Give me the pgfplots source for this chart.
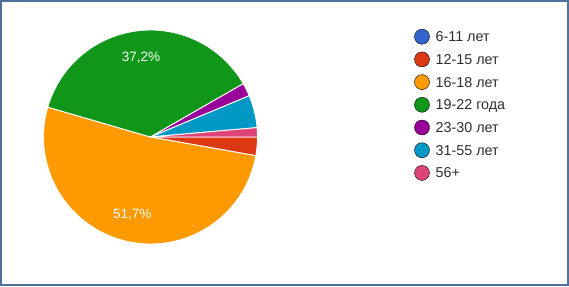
\documentclass[border=0pt]{standalone}
\usepackage{pgfplots}
\usepackage{pgfplotstable}
\pgfplotsset{compat=1.18}
\usetikzlibrary{calc}
\usepackage{fontspec}
\setmainfont{Liberation Sans}

\definecolor{c1}{HTML}{3366CC}
\definecolor{c2}{HTML}{DC3912}
\definecolor{c3}{HTML}{FF9900}
\definecolor{c4}{HTML}{109618}
\definecolor{c5}{HTML}{990099}
\definecolor{c6}{HTML}{0099C6}
\definecolor{c7}{HTML}{DD4477}
\definecolor{frame}{RGB}{79,113,156}

% age groups, share in percent
\pgfplotstableread{
label value col
{6-11 лет} 0 c1
{12-15 лет} 2.8 c2
{16-18 лет} 51.7 c3
{19-22 года} 37.2 c4
{23-30 лет} 2.0 c5
{31-55 лет} 4.9 c6
{56+} 1.4 c7
}\agedata

\begin{document}
\begin{tikzpicture}
\pgfplotstablegetrowsof{\agedata}
\pgfmathtruncatemacro\lastrow{\pgfplotsretval-1}
\begin{axis}[
  x=1bp, y=1bp,
  xmin=0, xmax=569, ymin=0, ymax=286,
  hide axis, clip=false,
]
% pie, clockwise from 3 o'clock
\def\angA{0}
\pgfplotsforeachungrouped \i in {0,...,\lastrow}{%
  \pgfplotstablegetelem{\i}{value}\of\agedata \let\val\pgfplotsretval
  \pgfplotstablegetelem{\i}{col}\of\agedata \let\col\pgfplotsretval
  \pgfmathsetmacro\angB{\angA-3.6*\val}
  \ifdim\val pt>0pt
    \edef\slice{\noexpand\fill[\col, draw=white, line width=0.9bp, line join=round]
      (axis cs:150.5,149) -- ++(\angA:107bp)
      arc[start angle=\angA, end angle=\angB, radius=107bp] -- cycle;}%
    \slice
  \fi
  \let\angA\angB
}
% percentage labels on the large slices
\def\angA{0}
\pgfplotsforeachungrouped \i in {0,...,\lastrow}{%
  \pgfplotstablegetelem{\i}{value}\of\agedata \let\val\pgfplotsretval
  \pgfmathsetmacro\angB{\angA-3.6*\val}
  \pgfmathsetmacro\angM{(\angA+\angB)/2}
  \ifdim\val pt>10pt
    \edef\lbl{\noexpand\node[white, font=\noexpand\fontsize{13.6}{15}\noexpand\selectfont, inner sep=0pt]
      at ($(axis cs:150.5,149)+(\angM:80bp)$)
      {\noexpand\pgfmathprintnumber[assume math mode=true, fixed, fixed zerofill, precision=1, use comma]{\val}\noexpand\%};}%
    \lbl
  \fi
  \let\angA\angB
}
% legend
\pgfplotsforeachungrouped \i in {0,...,\lastrow}{%
  \pgfplotstablegetelem{\i}{label}\of\agedata \let\lab\pgfplotsretval
  \pgfplotstablegetelem{\i}{col}\of\agedata \let\col\pgfplotsretval
  \pgfmathsetmacro\ly{249.3-22.7*\i}
  \pgfmathsetmacro\lb{\ly-5}
  \edef\entry{%
    \noexpand\addplot[only marks, mark=*, mark size=7.5bp, draw=none, fill=\col] coordinates {(422,\ly)};
    \noexpand\node[anchor=base west, inner sep=0pt, text=black!82, font=\noexpand\fontsize{14.4}{16}\noexpand\selectfont]
      at (axis cs:435.4,\lb) {\lab};}%
  \entry
}
\draw[frame, line width=1.6bp] (axis cs:0.8,0.8) rectangle (axis cs:568.2,285.2);
\end{axis}
\end{tikzpicture}
\end{document}
